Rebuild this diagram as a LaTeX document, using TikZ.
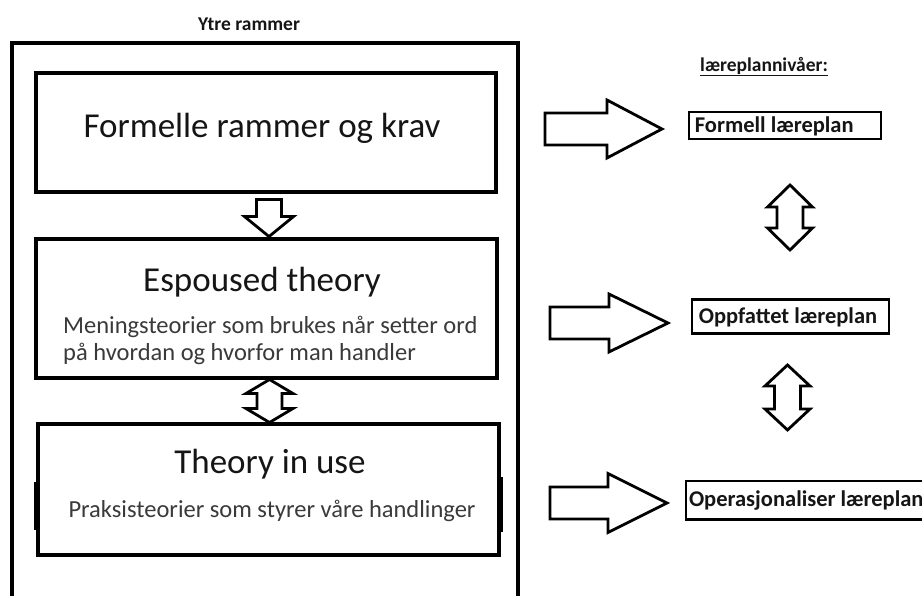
\documentclass[tikz,border=0pt]{standalone}
\usepackage{fontspec}
\setmainfont{Carlito}
\usetikzlibrary{calc}
\definecolor{ink}{HTML}{151515}
\definecolor{subink}{HTML}{3A3A3A}
\tikzset{
  frame/.style={draw=black, line width=3.1pt},
  box/.style={draw=black, line width=3.1pt, inner sep=0pt},
  heavy/.style={draw=black, line width=4.6pt},
  levelbox/.style={draw=black, line width=2.6pt, inner sep=0pt},
  blockarrow/.style={draw=black, line width=2.8pt, fill=white, line join=miter, miter limit=10},
  title/.style={font=\fontsize{35}{40}\selectfont, text=ink, inner sep=0pt},
  sub/.style={font=\fontsize{24.5}{26}\selectfont, text=subink, inner sep=0pt},
  heading/.style={font=\bfseries\fontsize{19.5}{22}\selectfont, text=ink, inner sep=0pt},
  leveltext/.style={font=\bfseries\fontsize{22.5}{24}\selectfont, text=ink, inner sep=0pt},
  % horizontal block arrow: shaft length, head length, shaft half height, head half height
  pics/harrow/.style n args={4}{code={
    \draw[blockarrow] (0,-#3) -- (#1,-#3) -- (#1,-#4) -- ({#1+#2},0) -- (#1,#4) -- (#1,#3) -- (0,#3) -- cycle;}},
  % downward block arrow: shaft length, head length, shaft half width, head half width
  pics/downarrow/.style n args={4}{code={
    \draw[blockarrow] (-#3,0) -- (#3,0) -- (#3,#1) -- (#4,#1) -- (0,{#1+#2}) -- (-#4,#1) -- (-#3,#1) -- cycle;}},
  % vertical two-headed block arrow: half length, head length, shaft half width, head half width
  pics/vdouble/.style n args={4}{code={
    \draw[blockarrow] (0,-#1) -- (#4,{-#1+#2}) -- (#3,{-#1+#2}) -- (#3,{#1-#2}) -- (#4,{#1-#2})
      -- (0,#1) -- (-#4,{#1-#2}) -- (-#3,{#1-#2}) -- (-#3,{-#1+#2}) -- (-#4,{-#1+#2}) -- cycle;}}
}
\begin{document}
\begin{tikzpicture}[x=1pt,y=-1pt]
\useasboundingbox[fill=white] (0,0) rectangle (922,596);

% outer frame, open towards the bottom
\node[heading, anchor=base] (ytre) at (249,31) {Ytre rammer};
\draw[frame] (12,600) -- (12,43) -- (518,43) -- (518,600);

% the three inner boxes
\node[box, minimum width=460pt, minimum height=119pt] (formal) at (266,132.5) {};
\node[box, minimum width=461pt, minimum height=139pt] (espoused) at (266.5,308.5) {};
\node[box, minimum width=461pt, minimum height=131pt] (inuse) at (268.5,489.5) {};

% heavier stretches on the sides next to the last box
\draw[heavy] (12,477) -- (12,528);
\draw[heavy] (inuse.west |- 0,482) -- (inuse.west |- 0,530);
\draw[heavy] (inuse.east |- 0,477) -- (inuse.east |- 0,532);
\draw[heavy] (518,472) -- (518,527);

\node[title, anchor=base] (t1) at (262,138) {Formelle rammer og krav};
\node[title, anchor=base] (t2) at (262,292) {Espoused theory};
\node[sub, anchor=base west] (s2a) at (63,334) {Meningsteorier som brukes når setter ord};
\node[sub, anchor=base west] (s2b) at (63,360) {på hvordan og hvorfor man handler};
\node[title, anchor=base] (t3) at (270,473) {Theory in use};
\node[sub, anchor=base] (s3) at (272,517) {Praksisteorier som styrer våre handlinger};

% arrows between the inner boxes
\coordinate (down) at ($(formal.south)+(3,6)$);
\pic at (down) {downarrow={17}{20}{12.5}{24.5}};
\coordinate (mid) at ($(espoused.south)!0.5!(inuse.north)+(2,0)$);
\pic at (mid) {vdouble={21.5}{14}{12.5}{23.5}};

% curriculum levels
\node[heading, anchor=base west] (niv) at (700,72) {læreplannivåer:};
\draw[line width=1.3pt, ink] ($(niv.base west)+(0,3.5)$) -- ($(niv.base east)+(0,3.5)$);

\node[levelbox, minimum width=192pt, minimum height=27pt] (lvl1) at (785,125.5) {};
\node[leveltext, anchor=west] (l1) at ($(lvl1.west)+(7,0.5)$) {Formell læreplan};
\node[levelbox, minimum width=197pt, minimum height=34pt] (lvl2) at (790.5,316.5) {};
\node[leveltext, anchor=west] (l2) at ($(lvl2.west)+(8,0.5)$) {Oppfattet læreplan};
\node[draw=none, minimum width=240pt, minimum height=38pt, inner sep=0pt] (lvl3) at (806,500) {};
\draw[levelbox] ($(lvl3.north west)+(240,0)$) -- (lvl3.north west) -- (lvl3.south west) -- ++(240,0);
\node[leveltext, anchor=west] (l3) at ($(lvl3.west)+(3,0.5)$) {Operasjonaliser læreplan};

% arrows pointing to the levels
\coordinate (a1) at (545,129);
\coordinate (a2) at (550,323);
\coordinate (a3) at (550,503);
\pic at (a1) {harrow={62}{55}{16}{29}};
\pic at (a2) {harrow={59}{59}{16}{29}};
\pic at (a3) {harrow={58}{59}{16}{29.5}};

% two-headed arrows between the levels
\coordinate (v1) at (790,217.5);
\coordinate (v2) at (787.5,397.5);
\pic at (v1) {vdouble={32.5}{22}{13}{22.5}};
\pic at (v2) {vdouble={32.5}{21}{13}{22.5}};
\end{tikzpicture}
\end{document}
